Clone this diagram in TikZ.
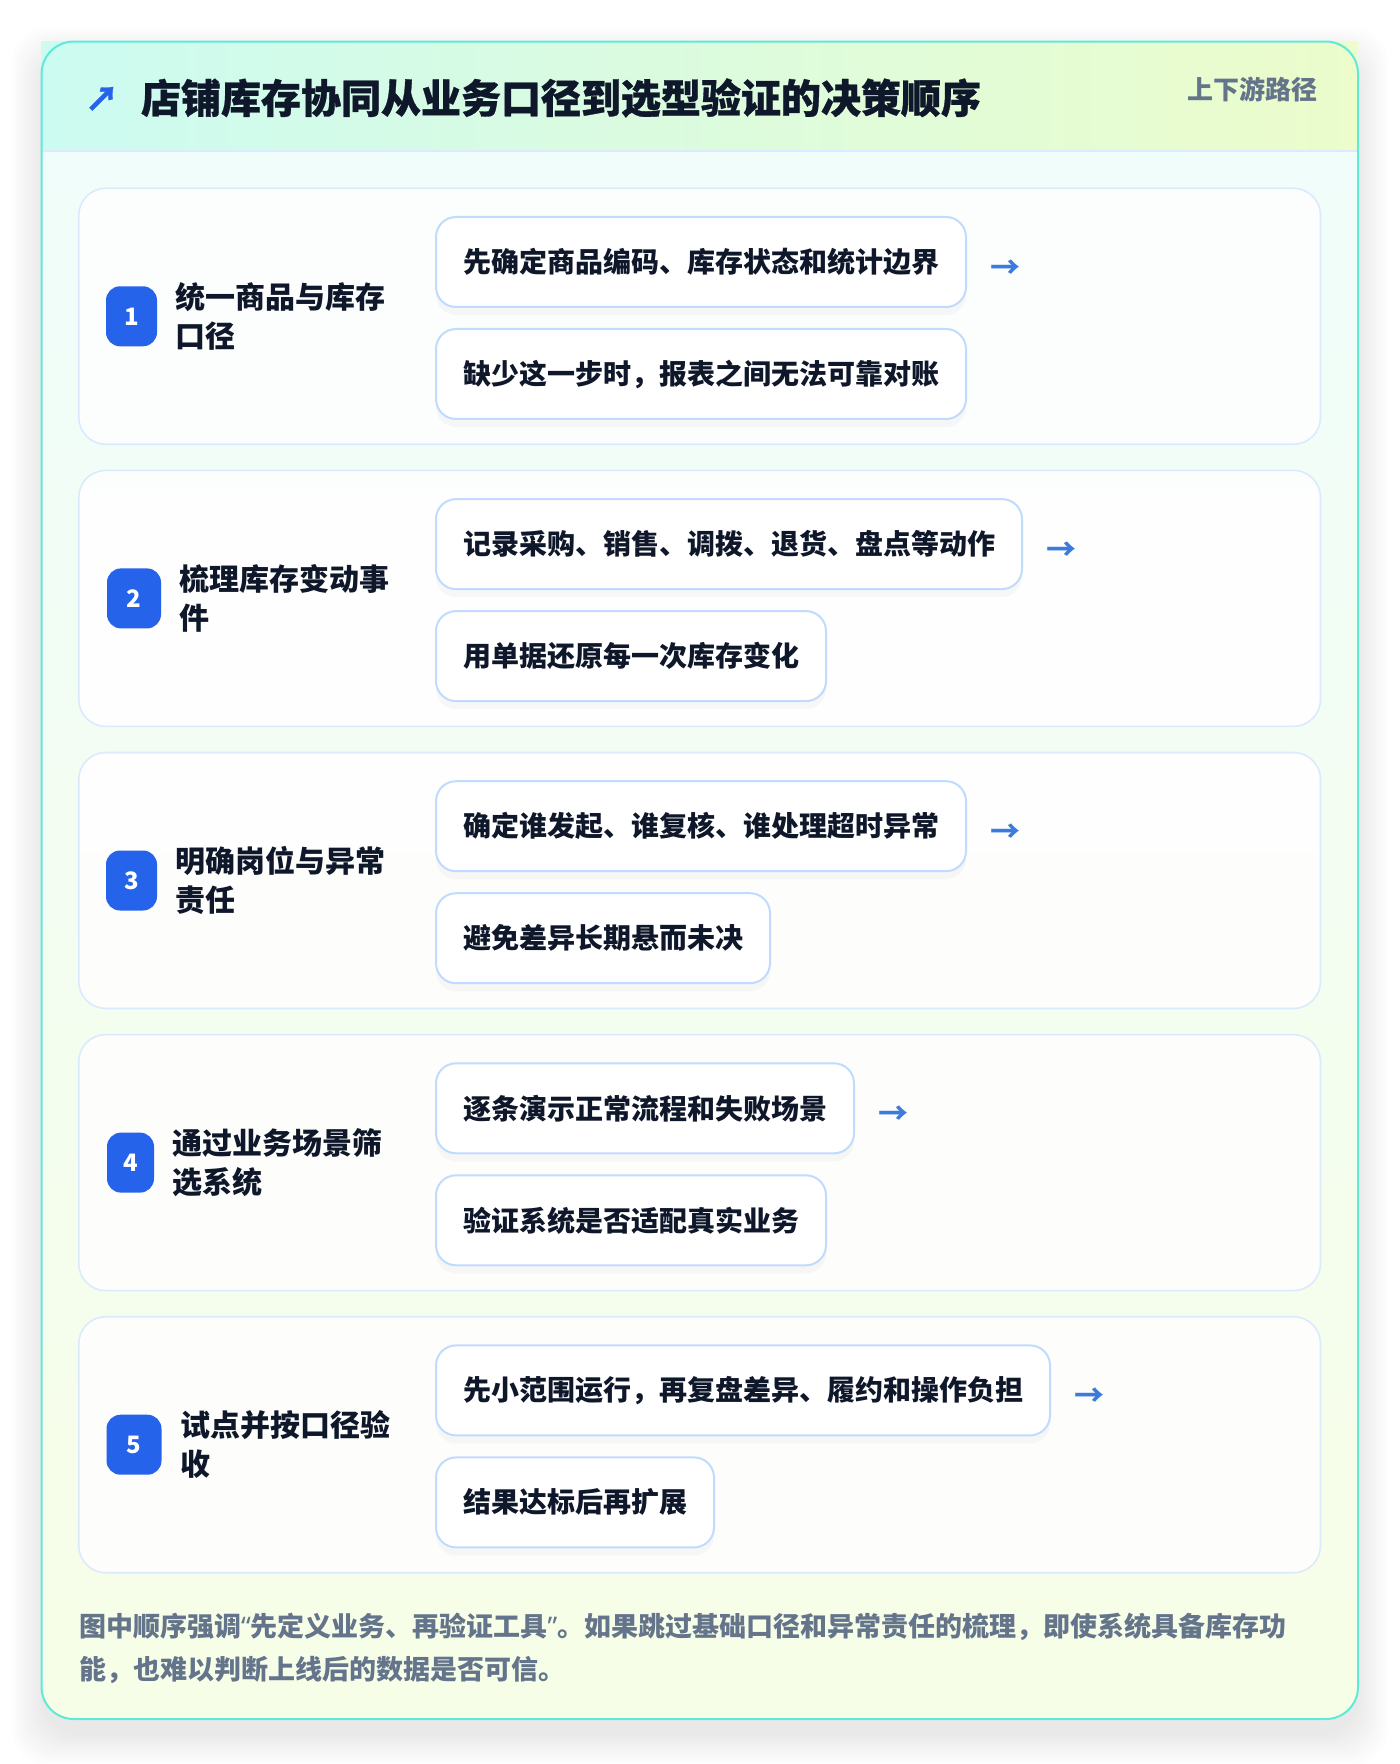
\documentclass[tikz,border=0pt]{standalone}
\usepackage{fontspec}
\setmainfont{Noto Sans CJK SC}
\newfontfamily\heavyfont{Noto Sans CJK SC}[BoldFeatures={FakeBold=0.8}]
\newfontfamily\quotefont{Noto Sans}
\usetikzlibrary{positioning,shadows}
\definecolor{cardline}{HTML}{5EEAD4}
\definecolor{headl}{HTML}{CCFBF1}
\definecolor{headr}{HTML}{ECFCCB}
\definecolor{bodyt}{HTML}{F0FDFA}
\definecolor{bodyb}{HTML}{F7FEE7}
\definecolor{rowline}{HTML}{DBEAFE}
\definecolor{boxline}{HTML}{BFDBFE}
\definecolor{badgeblue}{HTML}{2563EB}
\definecolor{arrowblue}{HTML}{3B7BE0}
\definecolor{ink}{HTML}{0F172A}
\definecolor{slate}{HTML}{64748B}

\begin{document}
\begin{tikzpicture}[x=0.5pt,y=-0.5pt,
  rowcard/.style={draw=rowline,line width=0.8pt,fill=white,fill opacity=.85,rounded corners=13.5pt},
  badge/.style={fill=badgeblue,text=white,rounded corners=7pt,minimum height=30pt,inner sep=0pt,font=\fontsize{12}{12}\selectfont\bfseries},
  rowlabel/.style={anchor=west,align=left,inner sep=0pt,text=ink,font=\fontsize{15}{19.5}\selectfont\bfseries},
  itembox/.style={draw=boxline,line width=1pt,fill=white,rounded corners=10pt,minimum height=45pt,inner xsep=13.5pt,inner ysep=0pt,text=ink,font=\fontsize{14}{14}\selectfont\bfseries,drop shadow={opacity=.05,shadow xshift=0pt,shadow yshift=-4pt}},
  nextarrow/.style={inner sep=0pt,yshift=-3.5pt,text=arrowblue,font=\fontsize{15}{15}\selectfont\bfseries}
]
\path[use as bounding box] (0,0) rectangle (1400,1764);

% soft shadow of the card
\foreach \s in {0,3,...,30}
  \fill[black,opacity=.008,rounded corners=18pt] (41.6-\s,41.6-\s+16) rectangle (1358+\s,1719+\s+16);

% card background
\begin{scope}
\clip[rounded corners=16pt] (41.6,41.6) rectangle (1358,1719);
\shade[top color=bodyt,bottom color=bodyb] (41.6,151) rectangle (1358,1719);
\end{scope}
\shade[left color=headl,right color=headr] (41.6,41.6) rectangle (1358,151);
\draw[rowline,line width=0.8pt] (41.6,151) -- (1358,151);
\draw[cardline,line width=1pt,rounded corners=16pt] (41.6,41.6) rectangle (1358,1719);

% title
\node[text=badgeblue,inner sep=0pt,font=\fontsize{17}{17}\selectfont\heavyfont\bfseries] (icon) at (102,99) {↗};
\node[anchor=west,inner sep=0pt,text=ink,font=\fontsize{20}{20}\selectfont\heavyfont\bfseries] (title) at (140.6,98) {店铺库存协同从业务口径到选型验证的决策顺序};
\node[anchor=east,inner sep=0pt,text=slate,font=\fontsize{13}{13}\selectfont\bfseries] (tag) at (1318,89) {上下游路径};

% row 1
\draw[rowcard] (78.75,188.3) rectangle (1320.5,444.3);
\node[badge,minimum width=25.5pt] (n1) at (131.5,316.3) {1};
\node[rowlabel,right=9pt of n1] (l1) {统一商品与库存\\口径};
\node[itembox,anchor=west] (r1a) at (435,262) {先确定商品编码、库存状态和统计边界};
\node[itembox,below right=10pt and 0pt of r1a.south west] (r1b) {缺少这一步时，报表之间无法可靠对账};
\node[nextarrow,right=11.5pt of r1a] (r1n) {→};

% row 2
\draw[rowcard] (78.75,470.4) rectangle (1320.5,726.4);
\node[badge,minimum width=27pt] (n2) at (134,598.4) {2};
\node[rowlabel,right=9pt of n2] (l2) {梳理库存变动事\\件};
\node[itembox,anchor=west] (r2a) at (435,544.1) {记录采购、销售、调拨、退货、盘点等动作};
\node[itembox,below right=10pt and 0pt of r2a.south west] (r2b) {用单据还原每一次库存变化};
\node[nextarrow,right=11.5pt of r2a] (r2n) {→};

% row 3
\draw[rowcard] (78.75,752.5) rectangle (1320.5,1008.5);
\node[badge,minimum width=25.5pt] (n3) at (131.5,880.5) {3};
\node[rowlabel,right=9pt of n3] (l3) {明确岗位与异常\\责任};
\node[itembox,anchor=west] (r3a) at (435,826.2) {确定谁发起、谁复核、谁处理超时异常};
\node[itembox,below right=10pt and 0pt of r3a.south west] (r3b) {避免差异长期悬而未决};
\node[nextarrow,right=11.5pt of r3a] (r3n) {→};

% row 4
\draw[rowcard] (78.75,1034.6) rectangle (1320.5,1290.6);
\node[badge,minimum width=23.5pt] (n4) at (130.5,1162.6) {4};
\node[rowlabel,right=9pt of n4] (l4) {通过业务场景筛\\选系统};
\node[itembox,anchor=west] (r4a) at (435,1108.3) {逐条演示正常流程和失败场景};
\node[itembox,below right=10pt and 0pt of r4a.south west] (r4b) {验证系统是否适配真实业务};
\node[nextarrow,right=11.5pt of r4a] (r4n) {→};

% row 5
\draw[rowcard] (78.75,1316.7) rectangle (1320.5,1572.7);
\node[badge,minimum width=27.5pt] (n5) at (134,1444.7) {5};
\node[rowlabel,right=9pt of n5] (l5) {试点并按口径验\\收};
\node[itembox,anchor=west] (r5a) at (435,1390.4) {先小范围运行，再复盘差异、履约和操作负担};
\node[itembox,below right=10pt and 0pt of r5a.south west] (r5b) {结果达标后再扩展};
\node[nextarrow,right=11.5pt of r5a] (r5n) {→};

% note
\node[anchor=west,align=left,inner sep=0pt,text=slate,font=\fontsize{13.5}{21.5}\selectfont\bfseries] (note) at (78.6,1648.5) {图中顺序强调{\quotefont“}先定义业务、再验证工具{\quotefont”}。如果跳过基础口径和异常责任的梳理，即使系统具备库存功\\能，也难以判断上线后的数据是否可信。};
\end{tikzpicture}
\end{document}
